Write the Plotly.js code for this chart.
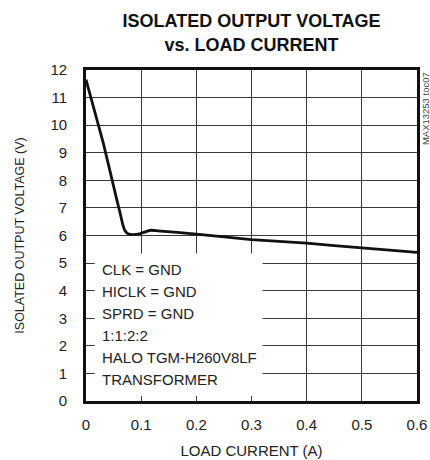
<!DOCTYPE html>
<html>
<head>
<meta charset="utf-8">
<script src="https://cdn.plot.ly/plotly-3.0.1.min.js"></script>
<style>html,body{margin:0;padding:0;background:#fff;}#chart{width:430px;height:460px;}</style>
</head>
<body>
<div id="chart"></div>
<script>
var loadCurrent = [0, 0.0315, 0.056, 0.062, 0.066, 0.07, 0.075, 0.08, 0.09, 0.1, 0.11, 0.118, 0.13, 0.2, 0.3, 0.4, 0.5, 0.6];
var outputVoltage = [11.65, 9.34, 7.28, 6.8, 6.45, 6.2, 6.08, 6.04, 6.04, 6.08, 6.15, 6.19, 6.17, 6.05, 5.85, 5.72, 5.55, 5.39];
var xTicks = [0, 0.1, 0.2, 0.3, 0.4, 0.5, 0.6];
var xTickText = ['0', '0.1', '0.2', '0.3', '0.4', '0.5', '0.6'];
var yTicks = [0,1,2,3,4,5,6,7,8,9,10,11,12];
var noteLines = ['CLK = GND', 'HICLK = GND', 'SPRD = GND', '1:1:2:2', 'HALO TGM-H260V8LF', 'TRANSFORMER'];
var noteY = [4.75, 3.96, 3.17, 2.37, 1.58, 0.79];

var font = 'Liberation Sans, Arial, sans-serif';
var trace = {
  x: loadCurrent, y: outputVoltage, type: 'scatter', mode: 'lines',
  line: {color: '#111', width: 2.8, shape: 'spline', smoothing: 0.3},
  hoverinfo: 'skip'
};
var annotations = noteLines.map(function (t, i) {
  return {xref: 'x', yref: 'y', x: 0.025, y: noteY[i], xanchor: 'left', yanchor: 'middle', showarrow: false,
          text: t, font: {family: font, size: 15, color: '#222'}};
});
annotations.push({xref: 'paper', yref: 'paper', x: 1.026, y: 1.0, xanchor: 'center', yanchor: 'top', textangle: -90, showarrow: false,
     text: 'MAX13253 toc07', font: {family: font, size: 9.5, color: '#444'}});
var layout = {
  width: 430, height: 460,
  margin: {l: 86, r: 13, t: 70, b: 59},
  paper_bgcolor: '#fff', plot_bgcolor: '#fff',
  showlegend: false,
  title: {text: '<b>ISOLATED OUTPUT VOLTAGE<br>vs. LOAD CURRENT</b>', x: 0.585, xanchor: 'center',
          yref: 'container', y: 0.941, yanchor: 'bottom',
          font: {family: font, size: 18, color: '#111'}},
  xaxis: {range: [0, 0.6], tickvals: xTicks, ticktext: xTickText, showgrid: true, gridcolor: '#3a3a3a', gridwidth: 1,
          showline: true, linecolor: '#111', linewidth: 2.8, mirror: true, zeroline: false, ticks: '',
          ticklabelstandoff: 8,
          tickfont: {family: font, size: 15, color: '#222'},
          title: {text: 'LOAD CURRENT (A)', font: {family: font, size: 15, color: '#222'}, standoff: 14}},
  yaxis: {range: [0, 12], tickvals: yTicks, showgrid: true, gridcolor: '#3a3a3a', gridwidth: 1,
          showline: true, linecolor: '#111', linewidth: 2.8, mirror: true, zeroline: false, ticks: '',
          ticklabelstandoff: 13,
          tickfont: {family: font, size: 15, color: '#222'},
          title: {text: 'ISOLATED OUTPUT VOLTAGE (V)', font: {family: font, size: 12.5, color: '#222'}, standoff: 24}},
  shapes: [{type: 'rect', xref: 'x', yref: 'y', x0: 0.016, x1: 0.32, y0: 0.18, y1: 5.35, layer: 'between',
            fillcolor: '#fff', line: {width: 0}}],
  annotations: annotations
};
Plotly.newPlot('chart', [trace], layout, {displayModeBar: false, staticPlot: true});
</script>
</body>
</html>
